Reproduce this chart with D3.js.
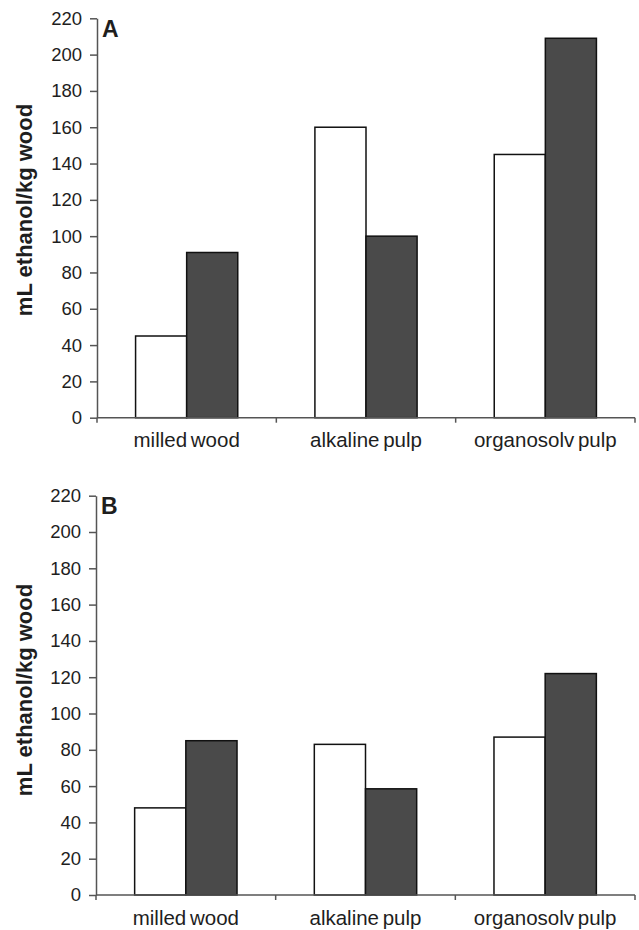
<!DOCTYPE html>
<html>
<head>
<meta charset="utf-8">
<script src="https://cdn.jsdelivr.net/npm/d3@7"></script>
<style>
  body { margin: 0; background: #fff; }
  svg { display: block; }
  text { font-family: "Liberation Sans", Arial, sans-serif; fill: #1e1e1e; }
</style>
</head>
<body>
<div id="chart"></div>
<script>
// data
const categories = ["milled wood", "alkaline pulp", "organosolv pulp"];
const series = ["white", "dark"];
const panelLabels = ["A", "B"];
const valuesA = [[45, 91], [160, 100], [145, 209]];
const valuesB = [[48, 85], [83, 58.5], [87, 122]];
const yTicks = [0, 20, 40, 60, 80, 100, 120, 140, 160, 180, 200, 220];
const yLabel = "mL ethanol/kg wood";

const width = 639, height = 930;
const right = 635;

const svg = d3.select('#chart')
    .append('svg')
    .attr('width', width)
    .attr('height', height);

const fills = { white: '#ffffff', dark: '#4a4a4a' };

function drawPanel(values, letter, left, top, bottom, labelCy) {
    const g = svg.append('g');

    const x0 = d3.scaleBand()
        .domain(categories)
        .range([left, right])
        .paddingInner(0)
        .paddingOuter(0);

    const x1 = d3.scaleBand()
        .domain(series)
        .range([0, x0.bandwidth()])
        .paddingInner(0)
        .paddingOuter(0.755);

    const y = d3.scaleLinear()
        .domain([0, 220])
        .range([bottom, top]);

    // bars
    categories.forEach((cat, i) => {
        g.selectAll(null)
            .data(series.map((s, j) => ({ s, v: values[i][j] })))
            .enter()
            .append('rect')
            .attr('x', d => x0(cat) + x1(d.s))
            .attr('y', d => y(d.v))
            .attr('width', x1.bandwidth())
            .attr('height', d => bottom - y(d.v))
            .attr('fill', d => fills[d.s])
            .attr('stroke', '#111')
            .attr('stroke-width', 1.5);
    });

    // y axis
    const yAxis = g.append('g')
        .attr('transform', `translate(${left},0)`)
        .call(d3.axisLeft(y).tickValues(yTicks).tickSize(7).tickPadding(8).tickSizeOuter(0));
    yAxis.select('.domain').attr('stroke', '#555').attr('stroke-width', 1.5);
    yAxis.selectAll('.tick line').attr('stroke', '#555').attr('stroke-width', 1.5);
    yAxis.selectAll('.tick text')
        .attr('font-size', 18.5)
        .attr('font-family', '"Liberation Sans", Arial, sans-serif')
        .attr('fill', '#1e1e1e');

    // x axis with ticks at band edges
    const edges = categories.map(c => x0(c)).concat([right]);
    g.append('line')
        .attr('x1', left).attr('x2', right)
        .attr('y1', bottom).attr('y2', bottom)
        .attr('stroke', '#555').attr('stroke-width', 1.5);
    g.selectAll(null)
        .data(edges)
        .enter()
        .append('line')
        .attr('x1', d => d).attr('x2', d => d)
        .attr('y1', bottom).attr('y2', bottom + 5)
        .attr('stroke', '#555').attr('stroke-width', 1.5);
    g.selectAll(null)
        .data(categories)
        .enter()
        .append('text')
        .attr('x', d => x0(d) + x0.bandwidth() / 2)
        .attr('y', bottom + 29.5)
        .attr('text-anchor', 'middle')
        .attr('font-size', 20.5)
        .attr('word-spacing', -2)
        .text(d => d);

    // panel letter
    g.append('text')
        .attr('x', left + 5)
        .attr('y', top + 18.4)
        .attr('font-size', 23)
        .attr('font-weight', 'bold')
        .text(letter);

    // y label
    g.append('text')
        .attr('transform', `translate(32,${labelCy}) rotate(-90)`)
        .attr('text-anchor', 'middle')
        .attr('font-size', 22)
        .attr('font-weight', 'bold')
        .text(yLabel);
}

drawPanel(valuesA, panelLabels[0], 97, 18.3, 417.7, 210);
drawPanel(valuesB, panelLabels[1], 96, 495.7, 895, 690);
</script>
</body>
</html>
